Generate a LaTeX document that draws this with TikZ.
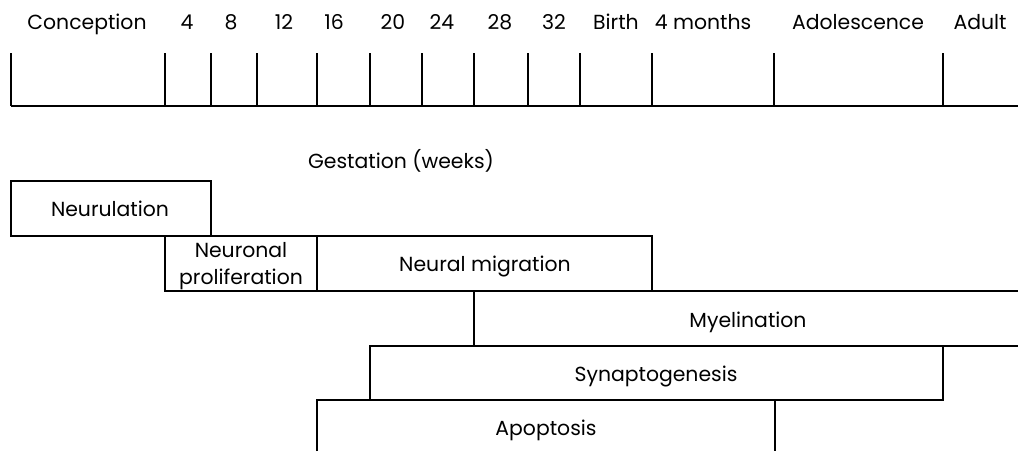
\documentclass[tikz,border=0pt]{standalone}
\usepackage{fontspec}
\setmainfont{Poppins}
\usepackage{tikz}

\tikzset{
  bar/.style={line width=1.1pt},
  lbl/.style={inner sep=0pt,anchor=base,font=\fontsize{11.6}{15.3}\selectfont},
}

\begin{document}
\begin{tikzpicture}[x=0.02cm,y=-0.02cm]
	  \useasboundingbox (0,0) rectangle (1018,451);
	  % time line
	  \draw[bar] (11,106) -- (1018,106);
	  \foreach \tx in {11,165,211,257,317,370,422,474,528,580,652,774,943}
	    \draw[bar] (\tx,53) -- (\tx,106);
	  \node[lbl] (conc) at (87,29) {Conception};
	  \node[lbl] (w4) at (187,29) {4};
	  \node[lbl] (w8) at (231,29) {8};
	  \node[lbl] (w12) at (284,29) {12};
	  \node[lbl] (w16) at (334,29) {16};
	  \node[lbl] (w20) at (393,29) {20};
	  \node[lbl] (w24) at (442,29) {24};
	  \node[lbl] (w28) at (500,29) {28};
	  \node[lbl] (w32) at (554,29) {32};
	  \node[lbl] (birth) at (616,29) {Birth};
	  \node[lbl] (months) at (703,29) {4 months};
	  \node[lbl] (adol) at (858,29) {Adolescence};
	  \node[lbl] (adult) at (980,29) {Adult};
	  \node[lbl] (gest) at (401,168) {Gestation (weeks)};
	  % stages
	  \draw[bar] (11,181) rectangle (211,236);
	  \draw[bar] (165,236) rectangle (317,291);
	  \draw[bar] (317,236) rectangle (652,291);
	  \draw[bar] (1018,291) -- (474,291) -- (474,346) -- (1018,346);
	  \draw[bar] (370,346) rectangle (943,400);
	  \draw[bar] (317,451) -- (317,400) -- (775,400) -- (775,451);
	  \node[lbl] (neurul) at (110,216) {Neurulation};
	  \node[lbl,align=center] (prolif) at (241,284) {Neuronal\\proliferation};
	  \node[lbl] (migr) at (485,271) {Neural migration};
	  \node[lbl] (myel) at (748,327) {Myelination};
	  \node[lbl] (synap) at (656,381) {Synaptogenesis};
	  \node[lbl] (apopt) at (546,435) {Apoptosis};
	\end{tikzpicture}
\end{document}
